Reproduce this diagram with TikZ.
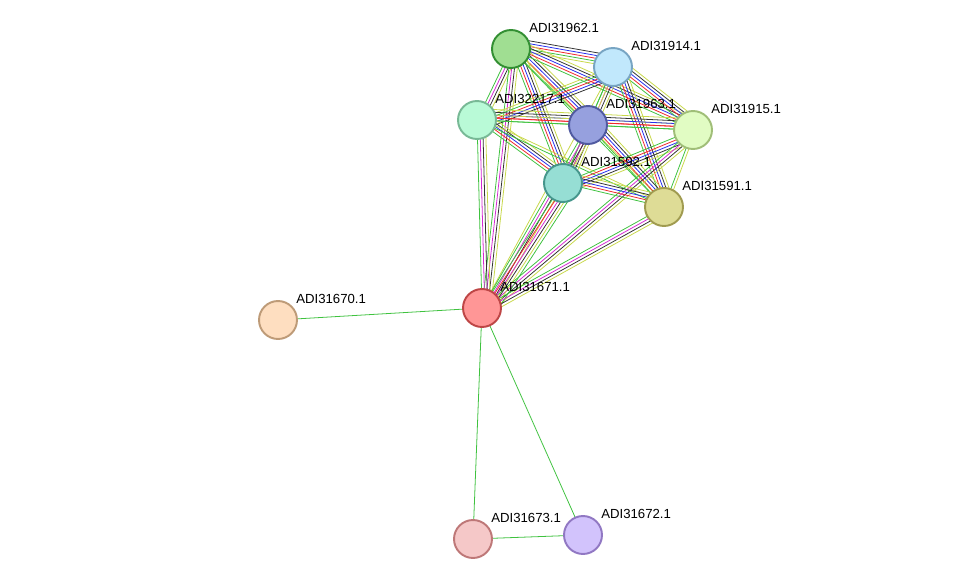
\documentclass[tikz,border=0pt]{standalone}
\usepackage{fontspec}
\setmainfont{Liberation Sans}
\usetikzlibrary{calc}
\definecolor{eg}{HTML}{3FC23F}
\definecolor{er}{HTML}{F0282D}
\definecolor{eb}{HTML}{2830F0}
\definecolor{ek}{HTML}{333333}
\definecolor{ey}{HTML}{C8D84A}
\definecolor{em}{HTML}{D42AD4}
\tikzset{
  prot/.style={circle, minimum size=0.76cm, inner sep=0pt, line width=1.1pt},
  lab/.style={anchor=south west, inner sep=0pt, font=\fontsize{7.5}{8}\selectfont},
  ln/.style={line width=0.45pt}
}
% bundle of parallel lines between two nodes
\newcommand{\bundle}[3]{%
  \foreach \c [count=\i] in {#3} {
    \pgfmathsetmacro{\off}{(\i-1)*1.6}
    \draw[ln, \c] ($(#1)!\off pt!90:(#2)$) -- ($(#2)!\off pt!-90:(#1)$);
  }}
\begin{document}
\begin{tikzpicture}[x=0.02cm, y=-0.02cm]
\useasboundingbox (0,0) rectangle (975,585);
% node positions
\coordinate (p962) at (511,49);
\coordinate (p914) at (613,67);
\coordinate (p217) at (477,120);
\coordinate (p963) at (588,125);
\coordinate (p915) at (693,130);
\coordinate (p592) at (563,183);
\coordinate (p591) at (664,207);
\coordinate (p671) at (482,308);
\coordinate (p670) at (278,320);
\coordinate (p673) at (473,539);
\coordinate (p672) at (583,535);

% edges
\bundle{p962}{p914}{ey,eg,er,eb,ek}
\bundle{p962}{p217}{eg,em,ek,ey}
\bundle{p962}{p963}{eg,er,eb,ek,ey}
\bundle{p962}{p915}{eg,er,eb,ek,ey}
\bundle{p962}{p592}{eg,er,eb,ek,ey}
\bundle{p962}{p591}{eg,ey}
\bundle{p962}{p671}{eg,em,ek,ey}
\bundle{p914}{p217}{ey,eg,er,eb,ek}
\bundle{p914}{p963}{eg,em,ek,ey}
\bundle{p914}{p915}{eg,er,eb,ek,ey}
\bundle{p914}{p592}{eg,ey}
\bundle{p914}{p591}{eg,er,eb,ek,ey}
\bundle{p914}{p671}{ey}
\bundle{p217}{p963}{eg,er,eb,ek,ey}
\bundle{p217}{p915}{eg,er,ey}
\bundle{p217}{p592}{eg,er,eb,ek,ey}
\bundle{p217}{p591}{eg,ey}
\bundle{p217}{p671}{eg,em,ek,ey}
\bundle{p963}{p915}{eg,er,eb,ek,ey}
\bundle{p963}{p592}{eg,em,ek,ey}
\bundle{p963}{p591}{eg,er,eb,ek,ey}
\bundle{p963}{p671}{eg,em,ek,ey}
\bundle{p915}{p592}{eg,er,eb,ek,ey}
\bundle{p915}{p591}{eg,ey}
\bundle{p915}{p671}{eg,em,ek,ey}
\bundle{p592}{p591}{eg,er,eb,ek,ey}
\bundle{p592}{p671}{eg,er,em,ek,ey,eg}
\bundle{p591}{p671}{eg,em,ek,ey}
\draw[ln, eg] (p671) -- (p670);
\draw[ln, eg] (p671) -- (p673);
\draw[ln, eg] (p671) -- (p672);
\draw[ln, eg] (p673) -- (p672);

% proteins
\node[prot, draw=green!45!black!80, fill={rgb,255:red,160;green,222;blue,146}] (n962) at (p962) {};
\node[prot, draw={rgb,255:red,120;green,165;blue,195}, fill={rgb,255:red,193;green,232;blue,252}] (n914) at (p914) {};
\node[prot, draw={rgb,255:red,120;green,185;blue,150}, fill={rgb,255:red,185;green,250;blue,215}] (n217) at (p217) {};
\node[prot, draw={rgb,255:red,80;green,90;blue,160}, fill={rgb,255:red,150;green,160;blue,222}] (n963) at (p963) {};
\node[prot, draw={rgb,255:red,160;green,190;blue,120}, fill={rgb,255:red,225;green,252;blue,195}] (n915) at (p915) {};
\node[prot, draw={rgb,255:red,70;green,150;blue,140}, fill={rgb,255:red,150;green,222;blue,212}] (n592) at (p592) {};
\node[prot, draw={rgb,255:red,160;green,155;blue,80}, fill={rgb,255:red,222;green,220;blue,150}] (n591) at (p591) {};
\node[prot, draw={rgb,255:red,190;green,70;blue,70}, fill={rgb,255:red,255;green,150;blue,150}] (n671) at (p671) {};
\node[prot, draw={rgb,255:red,190;green,155;blue,120}, fill={rgb,255:red,254;green,222;blue,192}] (n670) at (p670) {};
\node[prot, draw={rgb,255:red,190;green,120;blue,120}, fill={rgb,255:red,245;green,200;blue,200}] (n673) at (p673) {};
\node[prot, draw={rgb,255:red,145;green,120;blue,195}, fill={rgb,255:red,210;green,195;blue,252}] (n672) at (p672) {};

% labels
\node[lab] at (529,33) {ADI31962.1};
\node[lab] at (631,51) {ADI31914.1};
\node[lab] at (495,104) {ADI32217.1};
\node[lab] at (606,109) {ADI31963.1};
\node[lab] at (711,114) {ADI31915.1};
\node[lab] at (581,167) {ADI31592.1};
\node[lab] at (682,191) {ADI31591.1};
\node[lab] at (500,292) {ADI31671.1};
\node[lab] at (296,304) {ADI31670.1};
\node[lab] at (491,523) {ADI31673.1};
\node[lab] at (601,519) {ADI31672.1};
\end{tikzpicture}
\end{document}
